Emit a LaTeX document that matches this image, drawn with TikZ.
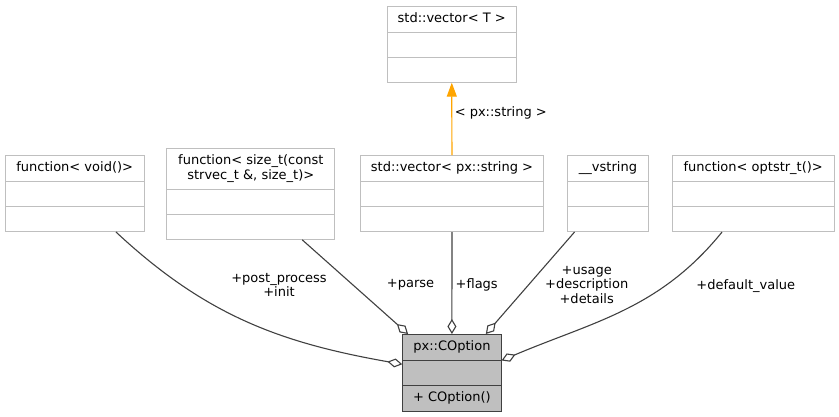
\documentclass[tikz,border=0pt]{standalone}
\usepackage{fontspec}
\setmainfont{DejaVu Sans}
\usetikzlibrary{shapes.multipart,arrows.meta}
\definecolor{boxline}{HTML}{BFBFBF}
\definecolor{edgeline}{HTML}{404040}
\definecolor{mainfill}{HTML}{BFBFBF}
\definecolor{tmplarrow}{HTML}{FFA500}

\begin{document}
\begin{tikzpicture}[x=1pt, y=-1pt, font=\fontsize{13}{14.5}\selectfont,
    cls/.style={rectangle split, rectangle split parts=3, draw=boxline, line width=1pt, anchor=north, align=center,
      inner xsep=4pt, inner ysep=5.25pt, rectangle split empty part height=10pt, rectangle split empty part depth=3.5pt},
    member/.style={draw=edgeline, line width=1.1pt, -{Diamond[open, length=15pt, width=9pt]}},
    lbl/.style={inner sep=0pt, align=center}]
      \useasboundingbox (0,0) rectangle (839,416);
      \node[cls, minimum width=128.7pt] (vecT) at (451.7,5.7) {std::vector< T >\strut};
      \node[cls, minimum width=138.7pt] (fvoid) at (74.7,155) {function< void()>\strut};
      \node[cls, minimum width=168.3pt] (fsize) at (250.8,148.3) {function< size\_t(const\strut\\strvec\_t \&, size\_t)>\strut};
      \node[cls, minimum width=182.6pt] (vecstr) at (452,155) {std::vector< px::string >\strut};
      \node[cls, minimum width=81.4pt] (vstring) at (608,155) {\_\_vstring\strut};
      \node[cls, minimum width=161.7pt] (foptstr) at (753.2,155) {function< optstr\_t()>\strut};
      \node[cls, draw=edgeline, fill=mainfill, minimum width=98.3pt] (opt) at (451.9,334) {px::COption\strut\nodepart{three}+ COption()\strut};
      \draw[draw=tmplarrow, line width=1.2pt, -{Triangle[length=14pt, width=10pt]}] (vecstr) -- (vecT);
      \node[lbl] (lstr) at (500.8,113.3) {< px::string >};
      \draw[member] (fvoid) to[out=-43, in=170] (opt);
      \draw[member] (fsize) -- (opt);
      \draw[member] (vecstr) -- (opt);
      \draw[member] (vstring) -- (opt);
      \draw[member] (foptstr) to[out=-129, in=23] (opt.one split east);
      \node[lbl] (lpost) at (279,285) {+post\_process\\+init};
      \node[lbl] (lparse) at (410.6,285) {+parse};
      \node[lbl] (lflags) at (476.7,285) {+flags};
      \node[lbl] (lusage) at (586.7,285) {+usage\\+description\\+details};
      \node[lbl] (ldef) at (745.8,285.7) {+default\_value};
    \end{tikzpicture}
\end{document}
